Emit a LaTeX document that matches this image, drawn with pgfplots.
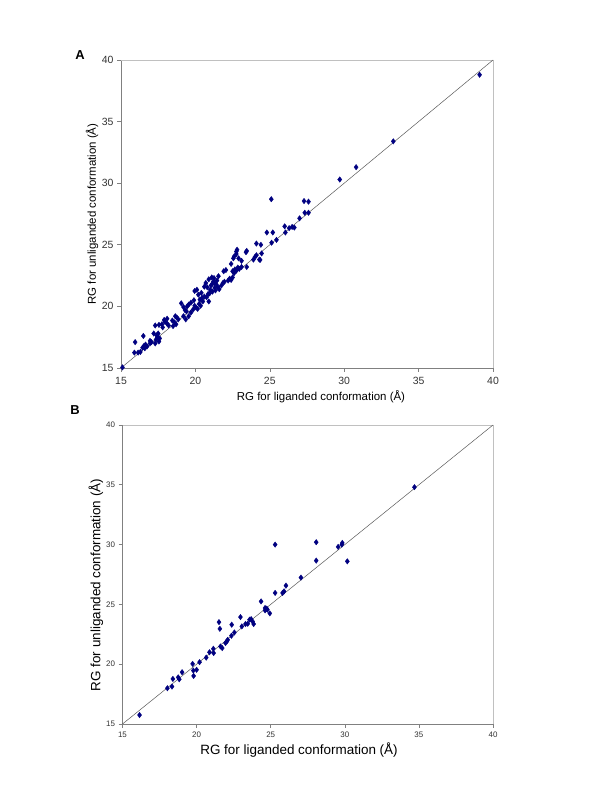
\documentclass[border=0pt]{standalone}
\usepackage{pgfplots}
\pgfplotsset{compat=1.18}
\usepackage{pgfplotstable}
\usepackage{fontspec}
\setmainfont{Liberation Sans}
\definecolor{mk}{RGB}{0,0,128}
\definecolor{axgray}{RGB}{128,128,128}
\definecolor{boxgray}{RGB}{192,192,192}

% panel A: RG liganded vs unliganded
\pgfplotstableread{
x y
15.1 15.05
15.95 17.1
15.9 16.25
16.15 16.25
16.3 16.3
16.5 17.6
16.45 16.65
16.55 16.8
16.65 16.9
16.6 16.6
16.75 16.75
16.95 17.2
17.05 17.1
16.95 17.0
17.3 17.0
17.35 17.3
17.45 17.5
17.5 17.8
17.4 17.65
17.55 17.15
17.6 17.4
17.2 17.8
17.3 18.45
17.55 18.5
17.75 18.55
17.95 18.75
18.1 18.6
17.8 18.3
18.2 18.45
18.45 18.85
18.6 18.7
18.7 18.55
18.5 18.4
18.1 19.0
17.9 18.9
18.65 19.2
18.75 19.1
18.85 18.95
19.05 20.25
19.2 19.95
19.3 19.7
19.45 20.0
19.55 20.15
19.4 19.6
19.2 19.2
19.35 18.95
19.55 19.2
19.7 19.5
19.85 19.75
19.95 20.05
20.05 19.9
20.15 19.8
20.25 20.2
20.35 20.05
19.7 20.3
19.9 20.5
19.95 21.25
20.1 21.35
20.2 20.95
20.3 20.55
20.45 20.7
20.5 20.4
20.6 20.8
20.75 20.75
20.85 21.0
20.95 21.05
20.9 20.4
21.05 21.7
21.15 21.85
21.2 22.0
21.3 21.9
21.4 21.8
21.3 21.5
21.35 21.3
21.15 21.2
21.0 21.35
20.8 21.55
20.7 21.9
20.4 21.1
20.6 21.6
20.9 22.2
21.1 22.35
21.25 22.3
21.45 22.1
21.55 22.45
21.5 21.6
21.6 21.4
21.75 21.7
21.85 21.9
21.95 22.0
21.9 22.85
22.05 22.95
22.3 22.25
22.4 22.15
22.5 22.35
22.2 22.1
22.55 23.9
22.6 24.05
22.75 24.25
22.8 24.6
22.75 24.45
22.9 23.9
22.4 23.45
22.5 22.85
22.65 23.0
22.75 22.9
22.85 23.15
22.95 23.05
22.6 22.7
23.1 23.2
23.1 23.7
23.4 24.4
23.45 24.5
23.45 23.2
23.9 23.8
24.0 24.0
24.1 24.15
24.3 23.8
24.1 25.1
24.4 25.0
24.45 24.3
24.35 23.77
24.8 26.0
25.2 26.0
25.1 28.7
25.12 25.17
25.45 25.4
26.0 26.5
26.05 26.0
26.3 26.35
26.5 26.45
26.65 26.4
27.0 27.15
27.35 27.6
27.6 27.6
27.3 28.55
27.6 28.5
29.7 30.3
30.8 31.3
33.3 33.4
39.1 38.8
}\dataA

% panel B
\pgfplotstableread{
x y
16.15 15.75
18.03 17.99
18.34 18.13
18.4 18.77
18.76 18.9
18.83 18.74
19.02 19.33
19.73 20.03
19.78 19.47
20.0 19.53
19.8 19.02
20.2 20.17
20.65 20.55
20.87 21.0
21.13 21.29
21.15 20.93
21.51 23.52
21.57 22.96
21.61 21.48
21.73 21.35
21.95 21.77
22.04 21.9
22.1 22.04
22.37 23.3
22.35 22.38
22.55 22.65
22.96 23.94
23.05 23.16
23.3 23.36
23.45 23.38
23.57 23.72
23.68 23.77
23.78 23.57
23.85 23.36
24.35 25.25
24.62 24.5
24.73 24.64
24.62 24.7
24.78 24.56
24.94 24.25
25.3 25.96
25.8 25.96
25.9 26.09
25.3 30.0
26.03 26.57
27.04 27.24
28.07 30.2
28.07 28.66
29.55 29.81
29.8 30.0
29.83 30.14
30.17 28.6
34.7 34.8
}\dataB

\begin{document}
\begin{tikzpicture}[x=1bp,y=1bp]
\path[use as bounding box] (0bp,0bp) rectangle (600bp,792bp);
\coordinate (swA) at (121bp,424bp);
\coordinate (swB) at (122.5bp,68bp);
\pgfplotsset{rgax/.style={
  scale only axis, clip=false,
  xmin=15, xmax=40, ymin=15, ymax=40,
  xtick={15,20,...,40}, ytick={15,20,...,40},
  axis lines=left, axis line style={draw=axgray, -},
  tick style={draw=axgray, line width=0.6bp},
  tick align=outside, major tick length=4bp,
  /pgf/number format/assume math mode=true,
}}
% --- A ---
\begin{axis}[rgax, at={(swA)}, anchor=south west,
  width=372bp, height=308bp,
  xticklabel style={yshift=-2bp},
  ticklabel style={font=\fontsize{10.5}{12}\selectfont, text=black!80}]
\draw[boxgray, line width=0.8bp] (rel axis cs:0,1) -- (rel axis cs:1,1) -- (rel axis cs:1,0);
\addplot[black!65, line width=0.5bp] coordinates {(15,15) (40,40)};
\addplot[only marks, mark=diamond*, mark size=2.7bp, color=mk] table {\dataA};
\end{axis}
% --- B ---
\begin{axis}[rgax, at={(swB)}, anchor=south west,
  width=370.5bp, height=299bp,
  ticklabel style={font=\fontsize{8}{10}\selectfont, text=black!80}]
\draw[boxgray, line width=0.8bp] (rel axis cs:0,1) -- (rel axis cs:1,1) -- (rel axis cs:1,0);
\addplot[black!65, line width=0.5bp] coordinates {(15,15) (40,40)};
\addplot[only marks, mark=diamond*, mark size=2.7bp, color=mk] table {\dataB};
\end{axis}
% labels
\node[font=\bfseries\fontsize{13}{15}\selectfont] at (80bp,737bp) {A};
\node[font=\bfseries\fontsize{13}{15}\selectfont] at (75bp,382bp) {B};
\node[font=\fontsize{11.5}{13}\selectfont] at (321bp,395bp) {RG for liganded conformation (Å)};
\node[font=\fontsize{11.5}{13}\selectfont, rotate=90] at (92bp,578bp) {RG for unliganded conformation (Å)};
\node[font=\fontsize{13.5}{15}\selectfont] at (299bp,42bp) {RG for liganded conformation (Å)};
\node[font=\fontsize{13.5}{15}\selectfont, rotate=90] at (96bp,207bp) {RG for unliganded conformation (Å)};
\end{tikzpicture}
\end{document}
